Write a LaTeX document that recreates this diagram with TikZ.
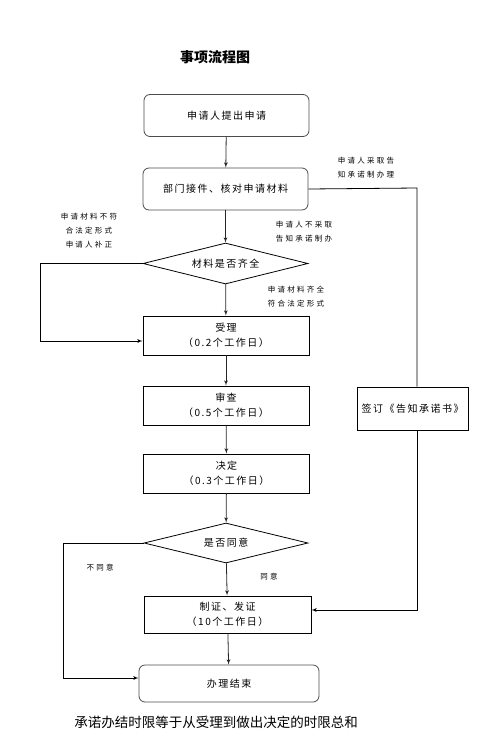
\documentclass[tikz,border=0pt]{standalone}
\usepackage{fontspec}
\setmainfont{Noto Sans CJK SC}
\newfontfamily\boxfont[LetterSpace=15]{Noto Sans CJK SC}
\newfontfamily\notefont[LetterSpace=30]{Noto Sans CJK SC}
\usetikzlibrary{arrows,positioning,shapes.geometric}

\begin{document}
\begin{tikzpicture}[x=1pt,y=-1pt,>=latex',line width=0.8pt,every node/.append style={align=center},
    rbox/.style={draw, rounded corners=6pt, inner sep=0pt, minimum width=165pt, minimum height=42pt, font=\boxfont\fontsize{10}{15}\selectfont},
    sbox/.style={draw, inner sep=0pt, minimum width=166pt, minimum height=39pt, font=\boxfont\fontsize{10}{15}\selectfont},
    dec/.style={draw, diamond, aspect=4, inner sep=0pt, minimum width=165pt, minimum height=41pt, font=\boxfont\fontsize{10}{15}\selectfont},
    note/.style={font=\notefont\fontsize{7.5}{14}\selectfont}]
    \useasboundingbox (0,0) rectangle (494,745);
    \node[font=\bfseries\fontsize{14}{16}\selectfont] (title) at (215,57) {事项流程图};
    % main column
    \node [rbox, draw=black!70] (apply) at (226.5,115.5) {申请人提出申请};
    \node [rbox, draw=black!70] (take)  at (225.5,189)   {部门接件、核对申请材料};
    \node [dec] (full)   at (225.5,263.5) {材料是否齐全};
    \node [sbox] (accept) at (226,335.5) {受理\\（0.2个工作日）};
    \node [sbox] (check)  at (226,405.5) {审查\\（0.5个工作日）};
    \node [sbox] (decide) at (226.5,473.5) {决定\\（0.3个工作日）};
    \node [dec, minimum width=164pt, minimum height=40pt] (agree) at (226,543) {是否同意};
    \node [sbox, minimum width=167pt, minimum height=37pt] (cert) at (227.5,614.5) {制证、发证\\（10个工作日）};
    \node [rbox, draw=black!70, minimum width=180pt, minimum height=37pt] (done) at (229,683.5) {办理结束};
    % side branch
    \node [sbox, minimum width=111pt, minimum height=43pt] (sign) at (412.5,408.5) {签订《告知承诺书》};
    \coordinate (r1) at (417,188);
    \coordinate (r2) at (417,610);
    \coordinate (l1) at (40,341);
    \coordinate (l2) at (63,678);
    % labels
    \node [note] (n1) at (366,168) {申请人采取告\\知承诺制办理};
    \node [note] (n2) at (304,232) {申请人不采取\\告知承诺制办};
    \node [note] (n3) at (89,231)  {申请材料不符\\合法定形式\\申请人补正};
    \node [note] (n4) at (296,297) {申请材料齐全\\符合法定形式};
    \node [note] (n5) at (100,568) {不同意};
    \node [note] (n6) at (269,577) {同意};
    \node [font=\fontsize{13.5}{16}\selectfont] (sum) at (216,722) {承诺办结时限等于从受理到做出决定的时限总和};
    % connectors
    \draw[->, black!85] (apply) -- (take);
    \draw[->, black!85] (take) -- (full);
    \draw[->, black!85] (full) -- (accept);
    \draw[->, black!85] (accept) -- (check);
    \draw[->, black!85] (check) -- (decide);
    \draw[->, black!85] (decide) -- (agree);
    \draw[->, black!85] (agree) -- (cert);
    \draw[->, black!85] (cert) -- (done);
    \draw[->] (full.west) -| (l1) -- (l1 -| accept.west);
    \draw[->] (agree.west) -| (l2) -- (l2 -| done.west);
    \draw (take.east) -- (r1) -- (r1 |- sign.north);
    \draw[->] (r1 |- sign.south) -- (r2) -- (r2 -| cert.east);
\end{tikzpicture}
\end{document}
